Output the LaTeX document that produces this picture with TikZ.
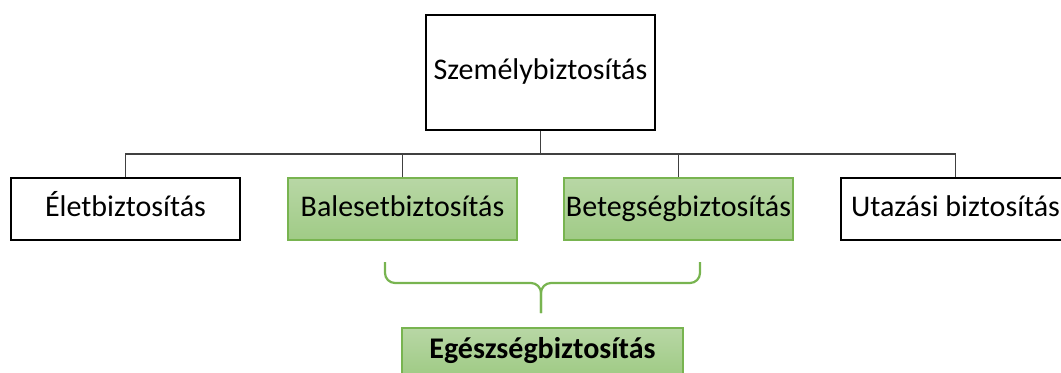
\documentclass[tikz,border=0pt]{standalone}
\usepackage{fontspec}
\setmainfont{Carlito}
\definecolor{grtop}{RGB}{184,215,165}
\definecolor{grbot}{RGB}{160,203,134}
\definecolor{grline}{RGB}{120,180,80}
\definecolor{connline}{RGB}{64,64,64}
\begin{document}
\begin{tikzpicture}[
  x=0.5pt, y=-0.5pt,
  font=\fontsize{15pt}{18pt}\selectfont,
  plain/.style={draw, line width=0.6pt, minimum width=114.5pt, minimum height=31pt,
    inner sep=0pt, text height=10pt, text depth=3pt},
  green/.style={plain, draw=grline, top color=grtop, bottom color=grbot},
  conn/.style={draw=connline, line width=0.75pt},
  brace/.style={draw=grline, line width=1.1pt, rounded corners=5pt}
]
\useasboundingbox (0,0) rectangle (1061,372);

\node[plain, minimum height=57.5pt] (szem) at (540.5,72.5) {Személybiztosítás};

\node[plain] (elet) at (125.5,209) {Életbiztosítás};
\node[green] (bal) at (402.5,209) {Balesetbiztosítás};
\node[green] (beteg) at (678.5,209) {Betegségbiztosítás};
\node[plain] (utaz) at (955.5,209) {Utazási biztosítás};

\node[green, minimum width=140.5pt, minimum height=23pt, font=\fontsize{15pt}{18pt}\selectfont\bfseries] (egesz) at (542.5,351) {Egészségbiztosítás};

\coordinate (bar) at (540.5,154);
\draw[conn] (szem.south) -- (bar);
\foreach \n in {elet,bal,beteg,utaz}
  \draw[conn] (\n.north) |- (bar);

% brace
\coordinate (tip) at (541,313);
\draw[brace] (385,262) -- (385,283) -- (541,283) -- (tip);
\draw[brace] (700,262) -- (700,283) -- (541,283) -- (tip);
\end{tikzpicture}
\end{document}
